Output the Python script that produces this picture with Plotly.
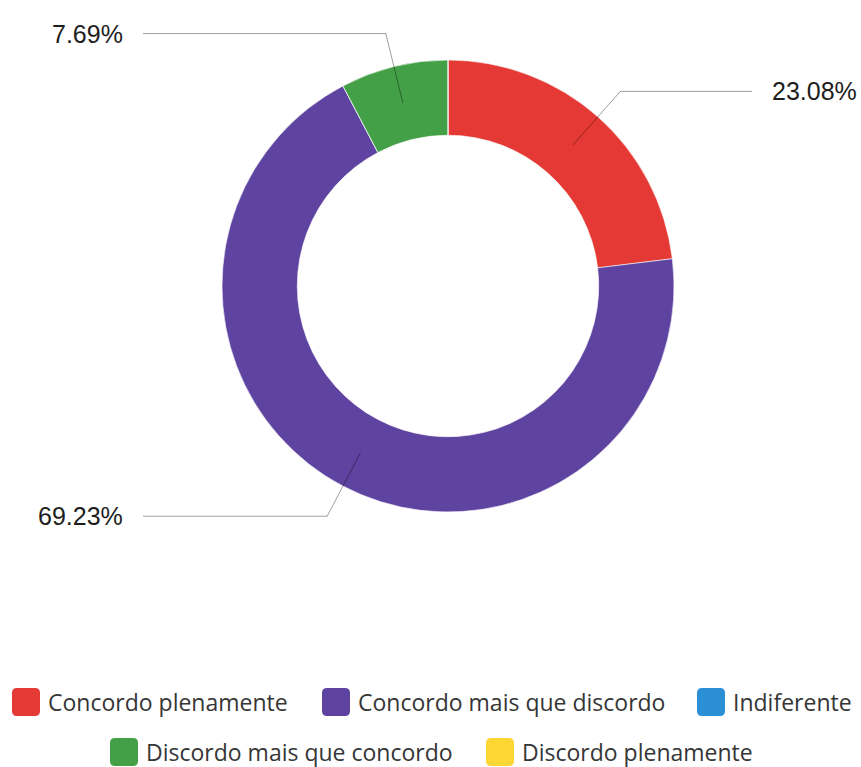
import math
import plotly.graph_objects as go

# Response categories, counts and colours
categories = [
    "Concordo plenamente",
    "Concordo mais que discordo",
    "Indiferente",
    "Discordo mais que concordo",
    "Discordo plenamente",
]
counts = [3, 9, 0, 1, 0]
colors = ["#E53935", "#5E43A0", "#2B8FD6", "#43A047", "#FDD835"]

W, H = 861, 767
CX, CY = 448, 286          # donut centre (px, from top-left)
R_OUT = 226                # outer radius (px)
HOLE = 0.667


def px(x):
    return x / W


def py(y):
    return 1 - y / H


fig = go.Figure()
fig.add_trace(go.Pie(
    labels=categories,
    values=counts,
    marker=dict(colors=colors, line=dict(color="white", width=0.6)),
    hole=HOLE,
    sort=False,
    direction="clockwise",
    rotation=0,
    textinfo="none",
    hoverinfo="label+percent",
    showlegend=False,
    domain=dict(x=[px(CX - R_OUT), px(CX + R_OUT)],
                y=[py(CY + R_OUT), py(CY - R_OUT)]),
))

shapes = []
annotations = []

# Leader lines and percentage labels for each non-empty slice
total = sum(counts)
r_anchor = R_OUT * (1 + HOLE) / 2
r_elbow = R_OUT + 34
cum = 0
for name, c in zip(categories, counts):
    if c == 0:
        continue
    frac = c / total
    mid = (cum + frac / 2) * 2 * math.pi
    cum += frac
    sx, sy = CX + r_anchor * math.sin(mid), CY - r_anchor * math.cos(mid)
    ex, ey = CX + r_elbow * math.sin(mid), CY - r_elbow * math.cos(mid)
    right = math.sin(mid) > 0
    hx = 752 if right else 143
    path = f"M {px(sx)},{py(sy)} L {px(ex)},{py(ey)} L {px(hx)},{py(ey)}"
    shapes.append(dict(type="path", path=path, xref="paper", yref="paper",
                       line=dict(color="rgba(0,0,0,0.38)", width=1)))
    annotations.append(dict(
        x=px(hx + (18 if right else -18)), y=py(ey), xref="paper", yref="paper",
        text=f"{frac * 100:.2f}%", showarrow=False,
        xanchor="left" if right else "right", yanchor="middle",
        font=dict(family="Liberation Sans, Arial, sans-serif", size=25, color="#1e1e1e"),
    ))

# Legend: rounded colour swatches with category names
legend_pos = [(12, 702), (322, 702), (697, 702), (110, 752), (486, 752)]
S = 28
for (lx, ly), name, col in zip(legend_pos, categories, colors):
    x0, x1 = lx, lx + S
    y0, y1 = ly - S / 2, ly + S / 2
    r = 5
    p = (f"M {px(x0 + r)},{py(y0)} L {px(x1 - r)},{py(y0)} "
         f"Q {px(x1)},{py(y0)} {px(x1)},{py(y0 + r)} L {px(x1)},{py(y1 - r)} "
         f"Q {px(x1)},{py(y1)} {px(x1 - r)},{py(y1)} L {px(x0 + r)},{py(y1)} "
         f"Q {px(x0)},{py(y1)} {px(x0)},{py(y1 - r)} L {px(x0)},{py(y0 + r)} "
         f"Q {px(x0)},{py(y0)} {px(x0 + r)},{py(y0)} Z")
    shapes.append(dict(type="path", path=p, xref="paper", yref="paper",
                       fillcolor=col, line=dict(width=0)))
    annotations.append(dict(
        x=px(lx + S + 6), y=py(ly), xref="paper", yref="paper",
        text=name, showarrow=False, xanchor="left", yanchor="middle",
        font=dict(family="Open Sans, sans-serif", size=23, color="#363636"),
    ))

fig.update_layout(
    width=W, height=H,
    margin=dict(l=0, r=0, t=0, b=0),
    paper_bgcolor="white",
    plot_bgcolor="white",
    shapes=shapes,
    annotations=annotations,
)

fig.write_html("out.html")
